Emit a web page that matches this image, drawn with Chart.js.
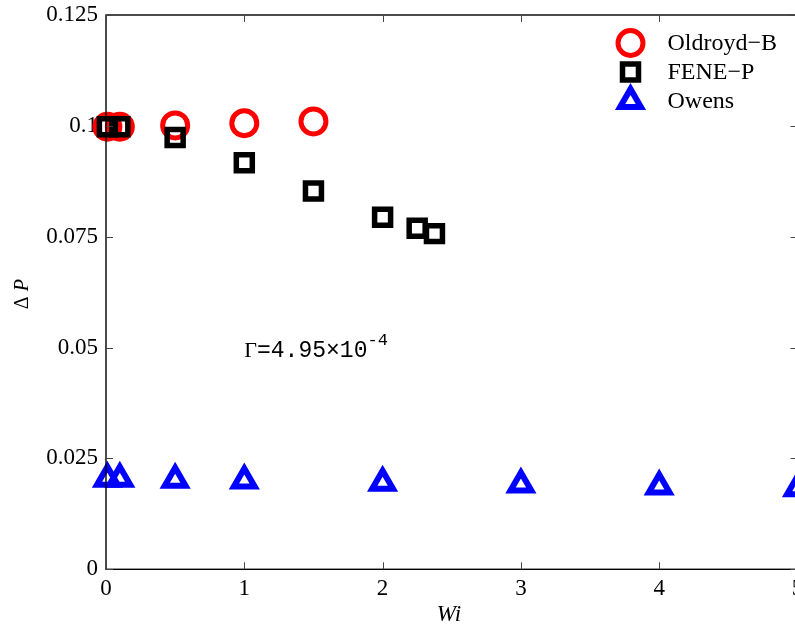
<!DOCTYPE html>
<html>
<head>
<meta charset="utf-8">
<title>Pressure drop vs Wi</title>
<script src="https://cdn.jsdelivr.net/npm/chart.js@4/dist/chart.umd.min.js"></script>
<style>
  html, body { margin: 0; padding: 0; background: #fff; overflow: hidden; }
  #wrap { width: 800px; height: 631px; }
</style>
</head>
<body>
<div id="wrap"><canvas id="chart" width="800" height="631"></canvas></div>
<script>
// Pressure drop ΔP against Weissenberg number for three models
const wiOldroyd = [0.01, 0.1, 0.5, 1.0, 1.5];
const dpOldroyd = [0.0998, 0.0998, 0.1001, 0.1006, 0.1010];

const wiFene = [0.01, 0.1, 0.5, 1.0, 1.5, 2.0, 2.25, 2.375];
const dpFene = [0.0998, 0.0998, 0.0974, 0.0917, 0.0853, 0.0794, 0.0769, 0.0757];

const wiOwens = [0.01, 0.1, 0.5, 1.0, 2.0, 3.0, 4.0, 5.0];
const dpOwens = [0.0204, 0.0204, 0.0202, 0.0200, 0.0195, 0.0191, 0.0187, 0.0183];

const xTicks = [0, 1, 2, 3, 4, 5];
const yTicks = [0, 0.025, 0.05, 0.075, 0.1, 0.125];
const seriesNames = ['Oldroyd\u2212B', 'FENE\u2212P', 'Owens'];

const SERIF = '"Liberation Serif", "Times New Roman", serif';
const MONO = '"Liberation Mono", "Courier New", monospace';

function pts(xs, ys){ return xs.map((x, i) => ({ x, y: ys[i] })); }

// inward ticks + full box, matlab style
const boxPlugin = {
  id: 'box',
  afterDraw(chart){
    const { ctx, chartArea: a, scales } = chart;
    ctx.save();
    ctx.strokeStyle = '#000';
    ctx.lineWidth = 1.4;
    ctx.strokeRect(a.left, a.top, a.right - a.left, a.bottom - a.top);
    ctx.strokeStyle = '#444';
    ctx.lineWidth = 1;
    const len = 7;
    ctx.beginPath();
    xTicks.forEach(v => {
      const px = Math.round(scales.x.getPixelForValue(v)) + 0.5;
      ctx.moveTo(px, a.bottom); ctx.lineTo(px, a.bottom - len);
      ctx.moveTo(px, a.top); ctx.lineTo(px, a.top + len);
    });
    yTicks.forEach(v => {
      const py = Math.round(scales.y.getPixelForValue(v)) + 0.5;
      ctx.moveTo(a.left, py); ctx.lineTo(a.left + len, py);
      ctx.moveTo(a.right, py); ctx.lineTo(a.right - len, py);
    });
    ctx.stroke();
    ctx.restore();
  }
};

// axis titles and the parameter note
const textPlugin = {
  id: 'texts',
  afterDraw(chart){
    const { ctx, chartArea: a, scales } = chart;
    ctx.save();
    ctx.fillStyle = '#000';
    ctx.textBaseline = 'alphabetic';

    // x title: Wi
    ctx.font = 'italic 23px ' + SERIF;
    ctx.textAlign = 'center';
    ctx.fillText('Wi', scales.x.getPixelForValue(2.48), 621);

    // y title: Δ P (rotated)
    ctx.save();
    ctx.translate(28, (a.top + a.bottom) / 2 + 2);
    ctx.rotate(-Math.PI / 2);
    ctx.textAlign = 'left';
    ctx.font = '20px ' + SERIF;
    const d = 'Δ ';
    const dw = ctx.measureText(d).width;
    ctx.font = 'italic 20px ' + SERIF;
    const pw = ctx.measureText('P').width;
    const x0 = -(dw + pw) / 2;
    ctx.font = '20px ' + SERIF;
    ctx.fillText(d, x0, 0);
    ctx.font = 'italic 20px ' + SERIF;
    ctx.fillText('P', x0 + dw, 0);
    ctx.restore();

    // Γ = 4.95×10^-4
    let tx = scales.x.getPixelForValue(1.0);
    const ty = scales.y.getPixelForValue(0.0478);
    ctx.textAlign = 'left';
    ctx.font = '22px ' + SERIF;
    ctx.fillText('Γ', tx, ty);
    tx += ctx.measureText('Γ').width;
    ctx.font = '23px ' + MONO;
    const body = '=4.95×10';
    ctx.fillText(body, tx, ty);
    tx += ctx.measureText(body).width;
    ctx.font = '17px ' + MONO;
    ctx.fillText('-4', tx, ty - 12);
    ctx.restore();
  }
};

// legend box in upper right, drawn from the datasets' own marker styles
const legendPlugin = {
  id: 'innerLegend',
  afterDatasetsDraw(chart){
    const { ctx, chartArea: a } = chart;
    const mx = a.right - 167;
    const tx = a.right - 130;
    const y0 = a.top + 28;
    const dy = 29;
    ctx.save();
    chart.data.datasets.forEach((ds, i) => {
      const y = y0 + i * dy;
      ctx.strokeStyle = ds.borderColor;
      ctx.fillStyle = ds.backgroundColor;
      ctx.lineWidth = ds.borderWidth;
      Chart.helpers.drawPoint(ctx, {
        pointStyle: ds.pointStyle,
        radius: ds.pointRadius,
        borderWidth: ds.borderWidth,
        rotation: 0
      }, mx, y);
      ctx.fillStyle = '#000';
      ctx.font = '24px ' + SERIF;
      ctx.textAlign = 'left';
      ctx.textBaseline = 'middle';
      ctx.fillText(ds.label, tx, y + 1);
    });
    ctx.restore();
  }
};

const marker = (label, data, style, color, r, bw, order) => ({
  label, data, order,
  showLine: false,
  pointStyle: style,
  pointRadius: r,
  pointHoverRadius: r,
  borderWidth: bw,
  pointBorderWidth: bw,
  borderColor: color,
  backgroundColor: 'rgba(0,0,0,0)',
  clip: false
});

new Chart(document.getElementById('chart'), {
  type: 'scatter',
  data: {
    datasets: [
      marker(seriesNames[0], pts(wiOldroyd, dpOldroyd), 'circle', '#ff0000', 12.5, 5, 2),
      marker(seriesNames[1], pts(wiFene, dpFene), 'rect', '#000000', 11.3, 5.5, 1),
      marker(seriesNames[2], pts(wiOwens, dpOwens), 'triangle', '#0000ff', 12, 6, 3)
    ]
  },
  options: {
    responsive: false,
    animation: false,
    layout: { autoPadding: false, padding: { top: 15, right: 2.5, left: 0, bottom: 0 } },
    plugins: { legend: { display: false }, tooltip: { enabled: false } },
    scales: {
      x: {
        type: 'linear', min: 0, max: 5,
        afterBuildTicks(s){ s.ticks = xTicks.map(v => ({ value: v })); },
        afterFit(s){ s.height = 61.7; s.paddingLeft = 0; s.paddingRight = 0; },
        grid: { display: false, drawTicks: false },
        border: { display: false },
        ticks: { padding: 6, color: '#000', font: { family: SERIF, size: 23 }, maxRotation: 0,
                 callback: v => String(v) }
      },
      y: {
        type: 'linear', min: 0, max: 0.125,
        afterBuildTicks(s){ s.ticks = yTicks.map(v => ({ value: v })); },
        afterFit(s){ s.width = 106; s.paddingTop = 0; s.paddingBottom = 0; },
        grid: { display: false, drawTicks: false },
        border: { display: false },
        ticks: { padding: 8, color: '#000', font: { family: SERIF, size: 23 },
                 callback: v => String(v) }
      }
    }
  },
  plugins: [boxPlugin, textPlugin, legendPlugin]
});
</script>
</body>
</html>
